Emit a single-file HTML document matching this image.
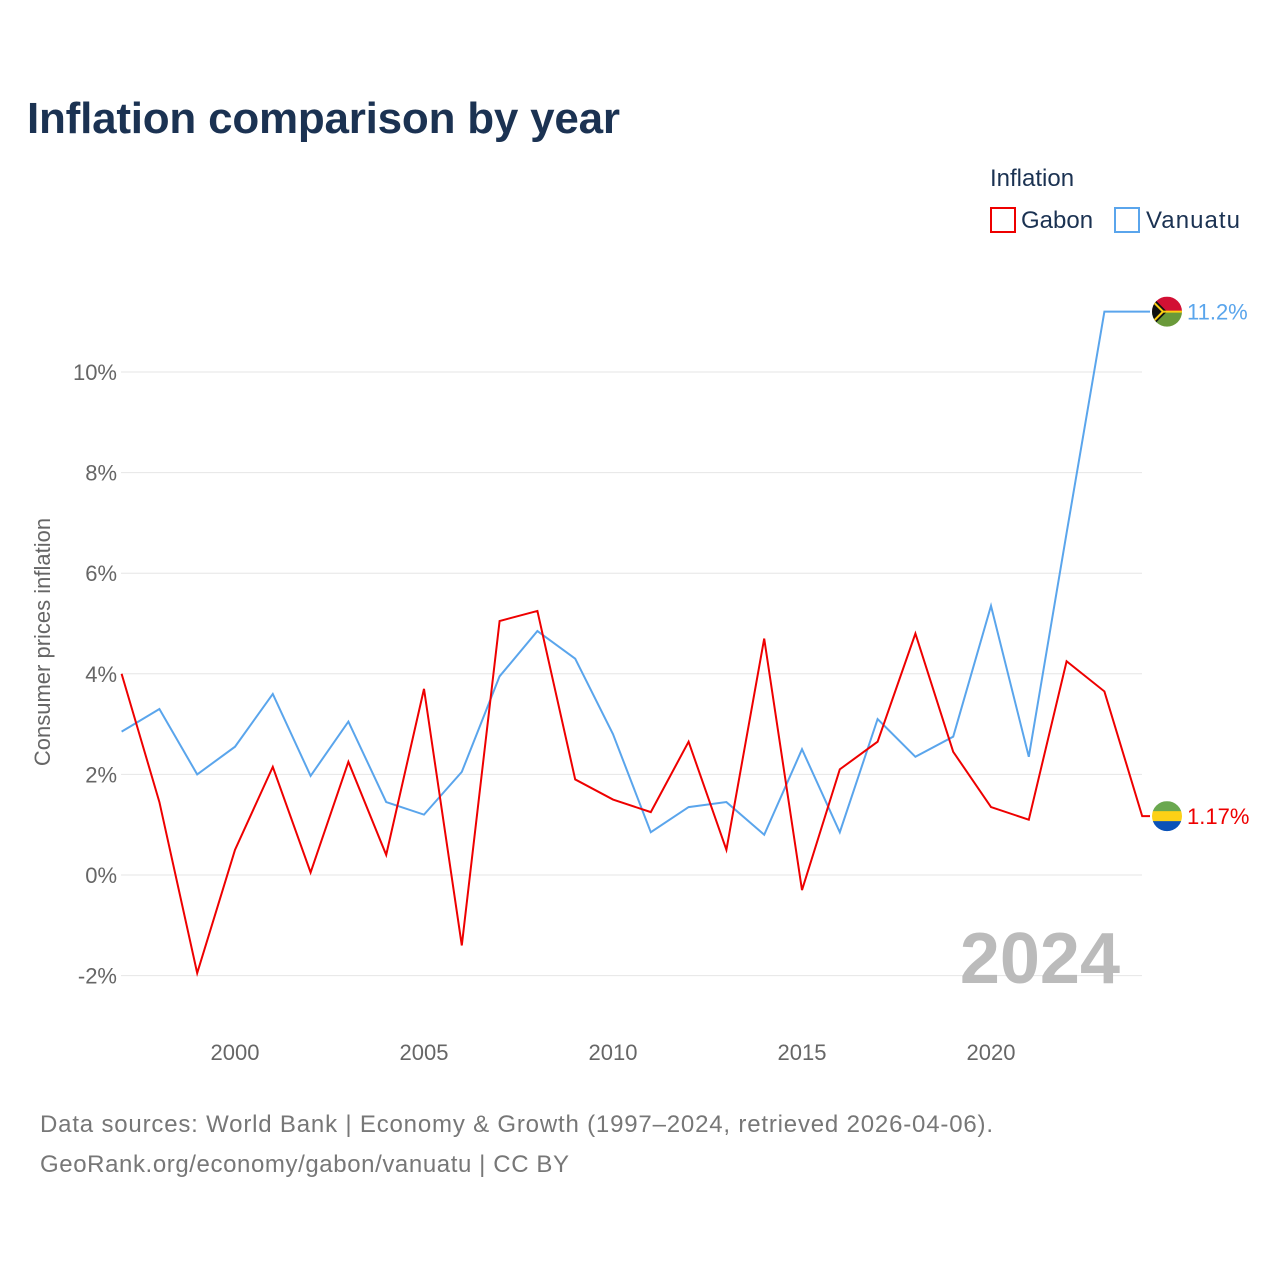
<!DOCTYPE html>
<html><head><meta charset="utf-8"><style>
body{margin:0;background:#fff;font-family:"Liberation Sans",sans-serif;}
svg text{font-family:"Liberation Sans",sans-serif;}
</style></head><body>
<svg width="1280" height="1280" viewBox="0 0 1280 1280">
<text x="27" y="133" font-size="44" font-weight="bold" fill="#1b3252" textLength="593">Inflation comparison by year</text>
<text x="990" y="186" font-size="24" fill="#1b3252">Inflation</text>
<g><rect x="991" y="208" width="24" height="24" fill="none" stroke="#e00" stroke-width="2"/><text x="1021" y="228" font-size="24" fill="#1b3252">Gabon</text></g>
<g><rect x="1115" y="208" width="24" height="24" fill="none" stroke="#5aa5ec" stroke-width="2"/><text x="1146" y="228" font-size="24" fill="#1b3252" textLength="94">Vanuatu</text></g>
<g id="grid"></g><g id="yt"></g><g id="xt"></g>
<text transform="translate(50,642) rotate(-90)" text-anchor="middle" font-size="22" fill="#666">Consumer prices inflation</text>
<text x="1120" y="983" text-anchor="end" font-size="72" font-weight="bold" fill="#bbb">2024</text>
<g id="lines"></g>
<text x="40" y="1132" font-size="24" fill="#777" textLength="953">Data sources: World Bank | Economy &amp; Growth (1997–2024, retrieved 2026-04-06).</text>
<text x="40" y="1172" font-size="24" fill="#777" textLength="529">GeoRank.org/economy/gabon/vanuatu | CC BY</text>
</svg>
<script>
const years=[1997,1998,1999,2000,2001,2002,2003,2004,2005,2006,2007,2008,2009,2010,2011,2012,2013,2014,2015,2016,2017,2018,2019,2020,2021,2022,2023,2024];
const gabon=[4.0,1.45,-1.95,0.5,2.15,0.05,2.25,0.4,3.7,-1.4,5.05,5.25,1.9,1.5,1.25,2.65,0.5,4.7,-0.3,2.1,2.65,4.8,2.45,1.35,1.1,4.25,3.65,1.17];
const vanuatu=[2.85,3.3,2.0,2.55,3.6,1.97,3.05,1.45,1.2,2.05,3.95,4.85,4.3,2.8,0.85,1.35,1.45,0.8,2.5,0.85,3.1,2.35,2.75,5.35,2.35,6.8,11.2,11.2];
const yTicks=[-2,0,2,4,6,8,10];
const xTicks=[2000,2005,2010,2015,2020];
const NS="http://www.w3.org/2000/svg";
const X=y=>121.6+(y-1997)*37.8;
const Y=v=>875-v*50.3;
function mk(t,a,p){const e=document.createElementNS(NS,t);for(const k in a)e.setAttribute(k,a[k]);p.appendChild(e);return e;}
const grid=document.getElementById('grid'),yt=document.getElementById('yt'),xt=document.getElementById('xt'),lines=document.getElementById('lines');
yTicks.forEach(v=>{
 const l=mk('line',{x1:121,x2:1142,y1:Y(v),y2:Y(v),stroke:'#e6e6e6','stroke-width':1},grid);
 
 
 const t=mk('text',{x:117,y:Y(v)+8,'text-anchor':'end','font-size':22,fill:'#666'},yt);
 t.textContent=v+'%';
 
 
});
xTicks.forEach(v=>{
 const t=mk('text',{x:X(v),y:1060,'text-anchor':'middle','font-size':22,fill:'#666'},xt);
 t.textContent=v;
 
 
});
function series(vals,color,name){
 let d=vals.map((v,i)=>(i?'L':'M')+X(years[i])+','+Y(v)).join(' ');
 d+=' L1150,'+Y(vals[vals.length-1]);
 const p=mk('path',{d:d,fill:'none',stroke:color,'stroke-width':2},lines);
 
 
}
series(vanuatu,'#5aa5ec','vanuatu');
series(gabon,'#e00','gabon');
function flag(v,name,stripes,color,label){
 const g=mk('g',{},lines);
 
 
 const cy=Y(v),cx=1167,r=15;
 mk('clipPath',{id:'c'+name},g).appendChild(document.createElementNS(NS,'circle'));
 const c=g.querySelector('clipPath circle');c.setAttribute('cx',cx);c.setAttribute('cy',cy);c.setAttribute('r',r);
 const gg=mk('g',{'clip-path':'url(#c'+name+')'},g);
 stripes.forEach((s,i)=>mk('rect',{x:cx-r,y:cy-r+i*2*r/stripes.length,width:2*r,height:2*r/stripes.length+0.5,fill:s},gg));
 if(name==='vanuatu'){mk('path',{d:`M${cx-r},${cy-r} L${cx},${cy} L${cx-r},${cy+r}Z`,fill:'#111'},gg);mk('path',{d:`M${cx-r},${cy-r+4} L${cx-4},${cy} L${cx+r},${cy} M${cx-4},${cy} L${cx-r},${cy+r-4}`,stroke:'#fdce12','stroke-width':2,fill:'none'},gg);}
 const t=mk('text',{x:1187,y:cy+8,'font-size':22,fill:color},g);
 t.textContent=label;
 
 
}
flag(vanuatu[vanuatu.length-1],'vanuatu',['#d21034','#6a9a3a'],'#5aa5ec','11.2%');
flag(gabon[gabon.length-1],'gabon',['#6aa84f','#fcd116','#0a52b8'],'#e00','1.17%');
</script>
</body></html>
